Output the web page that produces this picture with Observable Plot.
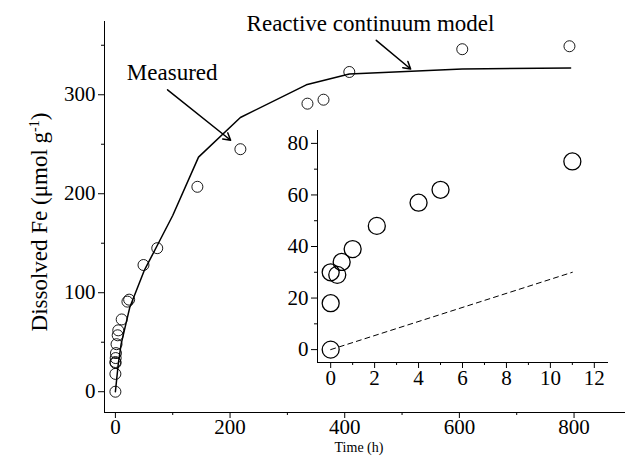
<!DOCTYPE html>
<html><head><meta charset="utf-8">
<script src="https://cdn.jsdelivr.net/npm/d3@7"></script>
<script src="https://cdn.jsdelivr.net/npm/@observablehq/plot@0.6"></script>
<style>
body{margin:0;background:#fff;}
#wrap{position:relative;width:625px;height:466px;font-family:"Liberation Serif","Times New Roman",serif;}
#wrap svg{position:absolute;left:0;top:0;overflow:visible;}
.lab{position:absolute;white-space:nowrap;color:#000;}
#ylab{left:40px;top:222px;font-size:23px;transform:translate(-50%,-50%) rotate(-90deg);}
#xlab{left:359px;top:440px;font-size:14px;transform:translateX(-50%);}
</style></head><body><div id="wrap"><div class="lab" id="ylab">Dissolved Fe (μmol g<sup style="font-size:14px">-1</sup>)</div><div class="lab" id="xlab">Time (h)</div></div>
<script>
const measuredT = [0,0,0,0.3,0.5,1,2,4,5,11,21,24,49,73,143,218,335,363,408,605,792];
const measuredFe = [0,18,30,29,34,39,48,57,62,73,91,93,128,145,207,245,291,295,323,346,349];
const modelT = [0,5,10,25,50,75,100,145,218,333,408,605,794];
const modelFe = [0,28,48,85,122,150,178,237,277,310,321,326,327];
const insetT = [0,0,0,0.3,0.5,1,2.1,4,5,11];
const insetFe = [0,18,30,29,34,39,48,57,62,73];
const dashT = [0,11];
const dashFe = [0,30];
const xTicks = [0,200,400,600,800];
const yTicks = [0,100,200,300];
const insetXTicks = [0,2,4,6,8,10,12];
const insetYTicks = [0,20,40,60,80];

const meas = measuredT.map((t,i)=>({t,fe:measuredFe[i]}));
const model = modelT.map((t,i)=>({t,fe:modelFe[i]}));
const ins = insetT.map((t,i)=>({t,fe:insetFe[i]}));
const dash = dashT.map((t,i)=>({t,fe:dashFe[i]}));
const font = "Times New Roman, Liberation Serif, DejaVu Serif, serif";
const blank = () => "";

const main = Plot.plot({
  width:625, height:466, marginLeft:104, marginRight:1, marginTop:21, marginBottom:54,
  style:{fontFamily:font, fontSize:"20px", color:"#000", background:"transparent", overflow:"visible"},
  x:{type:"linear", domain:[-19,888], label:null},
  y:{type:"linear", domain:[-21,374], label:null},
  marks:[
    Plot.frame({anchor:"left", stroke:"#000"}),
    Plot.frame({anchor:"bottom", stroke:"#000"}),
    Plot.axisX({ticks:[100,300,500,700], tickSize:3, tickFormat:blank, label:null}),
    Plot.axisY({ticks:[50,150,250,350], tickSize:3, tickFormat:blank, label:null}),
    Plot.axisX({ticks:xTicks, tickSize:6, fontSize:21, tickPadding:1, label:null}),
    Plot.axisY({ticks:yTicks, tickSize:6, fontSize:21, tickPadding:3, label:null}),
    Plot.line(model,{x:"t",y:"fe",stroke:"#000",strokeWidth:1.5}),
    Plot.dot(meas,{x:"t",y:"fe",r:5.5,stroke:"#000",strokeWidth:0.9,fill:"none"}),
    Plot.arrow([{x1:455,y1:355,x2:515,y2:326}],{x1:"x1",y1:"y1",x2:"x2",y2:"y2",stroke:"#000",strokeWidth:1.5,headLength:8}),
    Plot.arrow([{x1:91,y1:305,x2:201,y2:254}],{x1:"x1",y1:"y1",x2:"x2",y2:"y2",stroke:"#000",strokeWidth:1.5,headLength:8}),
    Plot.text(["Reactive continuum model"],{x:445,y:372,fontSize:23,fontFamily:font,fill:"#000"}),
    Plot.text(["Measured"],{x:99,y:322,fontSize:23,fontFamily:font,fill:"#000"})
  ]
});

const inset = Plot.plot({
  width:625, height:466, marginLeft:317, marginRight:18, marginTop:130, marginBottom:104,
  style:{fontFamily:font, fontSize:"20px", color:"#000", background:"transparent", overflow:"visible"},
  x:{type:"linear", domain:[-0.6,12.6], label:null},
  y:{type:"linear", domain:[-5,85], label:null},
  marks:[
    Plot.frame({anchor:"left", stroke:"#000"}),
    Plot.frame({anchor:"bottom", stroke:"#000"}),
    Plot.axisX({ticks:[1,3,5,7,9,11], tickSize:3, tickFormat:blank, label:null}),
    Plot.axisY({ticks:[10,30,50,70], tickSize:3, tickFormat:blank, label:null}),
    Plot.axisX({ticks:insetXTicks, tickSize:6, fontSize:21, tickPadding:2, label:null}),
    Plot.axisY({ticks:insetYTicks, tickSize:6, fontSize:21, tickPadding:3, label:null}),
    Plot.line(dash,{x:"t",y:"fe",stroke:"#000",strokeDasharray:"5,4",strokeWidth:1}),
    Plot.dot(ins,{x:"t",y:"fe",r:8.5,stroke:"#000",strokeWidth:1.3,fill:"none"})
  ]
});
document.getElementById("wrap").append(main, inset);
</script></body></html>
